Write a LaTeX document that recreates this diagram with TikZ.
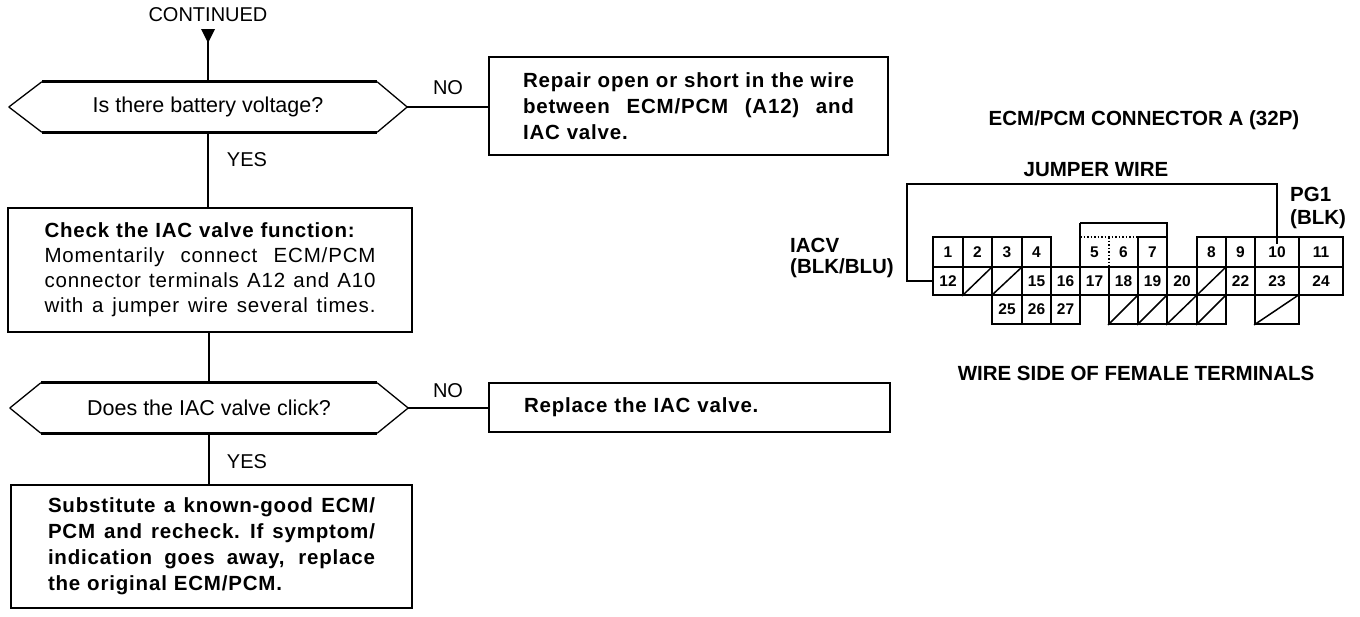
\documentclass[tikz,border=0pt]{standalone}
\usepackage{fontspec}
\setmainfont{Liberation Sans}
\newfontfamily\boxfont[LetterSpace=4]{Liberation Sans}
\usetikzlibrary{calc}
\newcommand\jline[2]{\leavevmode\hbox to #1{\spaceskip=0.278em plus 1fil\relax #2}}
\begin{document}
\begin{tikzpicture}[x=1pt,y=-1pt,
  reg/.style={font=\fontsize{21.5}{25}\selectfont},
  lab/.style={font=\fontsize{20}{24}\selectfont},
  bld/.style={font=\fontsize{20.5}{26}\selectfont\bfseries},
  bbx/.style={font=\boxfont\fontsize{20.5}{26}\selectfont\bfseries},
  box/.style={draw, line width=2.6pt, align=left, inner sep=0pt},
  dec/.style={minimum width=398pt, minimum height=50pt, inner sep=0pt},
  hexslant/.style={line width=1.3pt},
  hexflat/.style={line width=3pt},
  conn/.style={line width=2.8pt},
  cell/.style={draw, line width=1.8pt, inner sep=0pt, font=\fontsize{15.5}{15.5}\selectfont\bfseries},
  ncell/.style={inner sep=0pt, font=\fontsize{15.5}{15.5}\selectfont\bfseries},
  wire/.style={line width=2pt}
]
\fill[white] (0,0) rectangle (1360,616);
\useasboundingbox (0,0) rectangle (1360,616);

% ---------- flowchart ----------
\node[lab] (cont) at (208,15) {CONTINUED};
\coordinate (ctop) at (208,29);
\fill (201,29) -- (215,29) -- (208,43) -- cycle;

\node[dec, reg] (dec1) at (208,107) {Is there battery voltage?};
\draw[hexslant] (dec1.west) -- ([xshift=33pt]dec1.north west)
                (dec1.east) -- ([xshift=-30pt]dec1.north east)
                (dec1.west) -- ([xshift=33pt]dec1.south west)
                (dec1.east) -- ([xshift=-30pt]dec1.south east);
\draw[hexflat] ([xshift=33pt]dec1.north west) -- ([xshift=-30pt]dec1.north east)
               ([xshift=33pt]dec1.south west) -- ([xshift=-30pt]dec1.south east);

\node[box, bbx, text width=331pt, minimum width=399pt, minimum height=98pt] (box1) at (688.5,106)
  {\jline{331pt}{Repair open or short in the wire}\\
   \jline{331pt}{between ECM/PCM (A12) and}\\
   IAC valve.};

\node[box, text width=331pt, minimum width=404pt, minimum height=124pt,
      font=\boxfont\fontsize{20.5}{25}\selectfont] (box2) at (210,270)
  {\textbf{Check the IAC valve function:}\\
   \jline{331pt}{Momentarily connect ECM/PCM}\\
   \jline{331pt}{connector terminals A12 and A10}\\
   \jline{331pt}{with a jumper wire several times.}};

\node[dec, reg] (dec2) at (209,408) {Does the IAC valve click?};
\draw[hexslant] (dec2.west) -- ([xshift=31pt]dec2.north west)
                (dec2.east) -- ([xshift=-31pt]dec2.north east)
                (dec2.west) -- ([xshift=31pt]dec2.south west)
                (dec2.east) -- ([xshift=-31pt]dec2.south east);
\draw[hexflat] ([xshift=31pt]dec2.north west) -- ([xshift=-31pt]dec2.north east)
               ([xshift=31pt]dec2.south west) -- ([xshift=-31pt]dec2.south east);

\node[box, bbx, text width=331pt, minimum width=401pt, minimum height=49pt] (box3) at (689.5,407.5)
  {Replace the IAC valve.};

\node[box, bbx, text width=327pt, minimum width=401pt, minimum height=123pt] (box4) at (211.5,546.5)
  {\jline{327pt}{Substitute a known-good ECM/}\\
   \jline{327pt}{PCM and recheck. If symptom/}\\
   \jline{327pt}{indication goes away, replace}\\
   the original ECM/PCM.};

% connectors
\draw[conn] (ctop) -- (dec1.north);
\draw[conn] (dec1.east) -- (dec1.east -| box1.west);
\draw[conn] (dec1.south) -- (dec1.south |- box2.north);
\draw[conn] (box2.south -| dec2.north) -- (dec2.north);
\draw[conn] (dec2.east) -- (dec2.east -| box3.west);
\draw[conn] (dec2.south) -- (dec2.south |- box4.north);

\node[lab] (no1) at (448,88) {NO};
\node[lab] (yes1) at (247,160) {YES};
\node[lab] (no2) at (448,391) {NO};
\node[lab] (yes2) at (247,462) {YES};

% ---------- connector diagram ----------
\node[bld] (ctitle) at (1144,120) {ECM/PCM CONNECTOR A (32P)};
\node[bld] (jw) at (1096,170) {JUMPER WIRE};
\node[bld] (wside) at (1136,373) {WIRE SIDE OF FEMALE TERMINALS};
\node[bld, anchor=west, inner sep=0pt] (pg1) at (1290,194) {PG1};
\node[bld, anchor=west, inner sep=0pt] (pgblk) at (1290,219) {(BLK)};
\node[bld, anchor=west, inner sep=0pt] (iacv) at (790,245) {IACV};
\node[bld, anchor=west, inner sep=0pt] (iacvc) at (790,268) {(BLK/BLU)};

% top row
\foreach \x/\w/\t in {948/30/1, 977.5/29/2, 1007/30/3, 1036.5/29/4,
                      1152.5/29/7, 1211.5/29/8, 1240.5/29/9, 1277/44/10, 1321/44/11}
  \node[cell, minimum width=\w pt, minimum height=30pt] (t\t) at (\x,252) {\t};
\node[ncell] (t5) at (1094.5,252) {5};
\node[ncell] (t6) at (1123.5,252) {6};
\draw[line width=1.8pt] (1080,223) -- (1080,267);
\draw[line width=1.5pt, dotted] (1080,237) -- (1138,237) (1109,237) -- (1109,267);
\draw[line width=1.8pt] (1080,223) -- (1167,223) -- (1167,237);

% middle row
\foreach \x/\w/\t in {948/30/12, 1036.5/29/15, 1065.5/29/16, 1094.5/29/17, 1123.5/29/18,
                      1152.5/29/19, 1182/30/20, 1240.5/29/22, 1277/44/23, 1321/44/24}
  \node[cell, minimum width=\w pt, minimum height=28pt] (m\t) at (\x,281) {\t};
\foreach \x/\w/\n in {977.5/29/m2, 1007/30/m3, 1211.5/29/m21}
  {\node[cell, minimum width=\w pt, minimum height=28pt] (\n) at (\x,281) {};
   \draw[line width=1.5pt] (\n.south west) -- (\n.north east);}

% bottom row
\foreach \x/\w/\t in {1007/30/25, 1036.5/29/26, 1065.5/29/27}
  \node[cell, minimum width=\w pt, minimum height=29pt] (b\t) at (\x,309.5) {\t};
\foreach \x/\w/\n in {1123.5/29/b30, 1152.5/29/b31, 1182/30/b32, 1211.5/29/b33, 1277/44/b35}
  {\node[cell, minimum width=\w pt, minimum height=29pt] (\n) at (\x,309.5) {};
   \draw[line width=1.5pt] (\n.south west) -- (\n.north east);}

% jumper wire
\coordinate (wend) at ([yshift=-8pt]t10.north);
\draw[wire] (m12.west) -| (907,184) -| (wend);
\end{tikzpicture}
\end{document}
